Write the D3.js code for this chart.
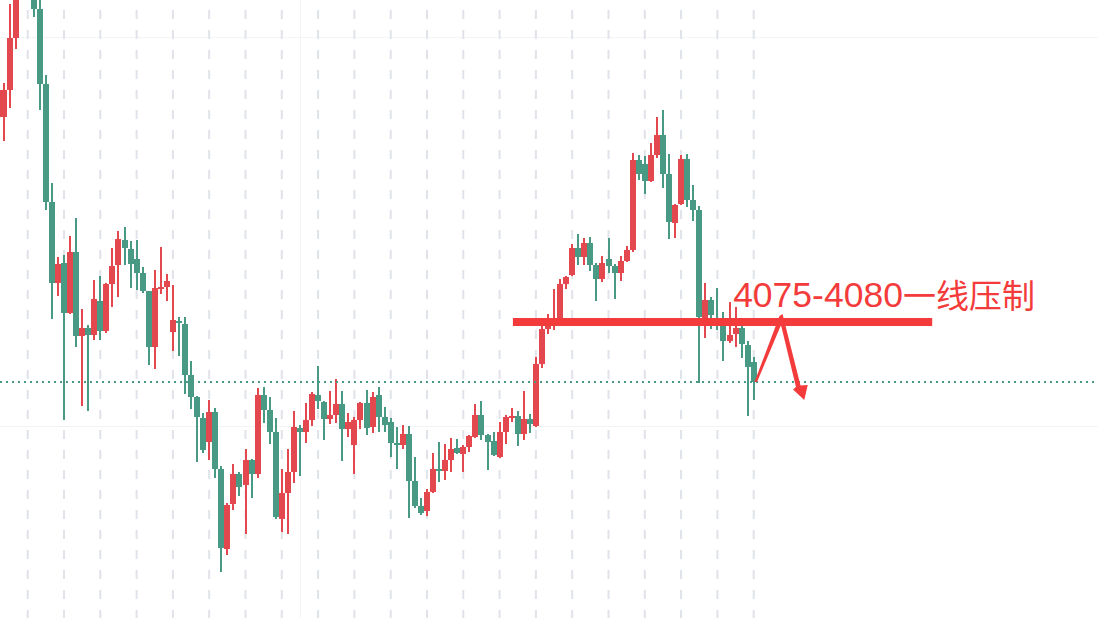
<!DOCTYPE html>
<html>
<head>
<meta charset="utf-8">
<script src="https://cdn.jsdelivr.net/npm/d3@7"></script>
<style>
html,body{margin:0;padding:0;background:#fff;overflow:hidden;}
svg{display:block;}
</style>
</head>
<body>
<svg id="chart" width="1098" height="618"></svg>
<script>
// ---- data (prices) ----
const open = [4101.23,4098.33,4101.00,4106.23,4112.00,4113.80,4111.20,4109.10,4101.60,4089.80,
4081.73,4083.70,4078.73,4084.80,4076.43,4077.20,4076.53,4079.90,4076.90,4081.60,
4083.50,4086.00,4085.10,4084.10,4082.70,4080.90,4075.33,4081.10,4081.30,4076.83,
4077.90,4077.60,4072.50,4070.33,4068.20,4065.80,4068.80,4063.10,4055.13,4059.63,
4062.60,4061.53,4064.03,4062.63,4070.53,4069.00,4066.80,4058.07,4060.73,4062.83,
4067.20,4066.83,4068.00,4070.53,4069.80,4068.10,4068.50,4069.60,4067.10,4065.53,
4068.00,4069.73,4067.30,4070.50,4068.30,4067.80,4065.70,4065.50,4066.60,4061.90,
4059.40,4058.90,4060.80,4063.10,4062.90,4064.00,4065.20,4064.60,4065.30,4066.30,
4068.50,4066.50,4065.90,4064.30,4066.80,4068.30,4068.40,4066.60,4068.10,4067.43,
4073.60,4077.10,4077.60,4078.10,4081.60,4082.50,4085.20,4084.30,4085.70,4083.50,
4082.10,4084.10,4083.40,4082.70,4083.90,4085.00,4094.00,4093.60,4091.90,4094.50,
4096.50,4092.60,4087.70,4089.60,4094.10,4090.00,4089.00,4078.20,4080.00,4078.20,
4077.50,4075.90,4076.60,4077.20,4075.50,4073.80];
const high = [4101.50,4101.67,4109.60,4113.00,4114.80,4115.20,4111.80,4110.30,4102.50,4091.70,
4084.30,4084.50,4086.40,4088.20,4079.10,4077.50,4082.00,4082.40,4081.70,4085.20,
4086.90,4087.30,4085.90,4086.00,4083.30,4080.90,4083.00,4085.30,4082.60,4081.50,
4078.30,4078.30,4073.90,4070.40,4068.70,4070.00,4069.20,4063.40,4059.73,4063.60,
4062.80,4065.13,4064.10,4071.20,4071.30,4070.30,4068.20,4063.10,4065.10,4068.90,
4067.50,4069.70,4070.83,4073.40,4069.90,4070.90,4072.10,4070.90,4068.70,4068.30,
4069.83,4071.00,4070.80,4071.30,4069.30,4068.20,4067.30,4067.50,4067.40,4064.30,
4060.20,4061.10,4064.70,4065.80,4065.60,4066.20,4066.10,4065.50,4066.50,4069.60,
4069.90,4066.60,4066.80,4067.80,4068.50,4069.20,4068.90,4070.90,4068.60,4074.30,
4077.40,4078.60,4081.10,4082.10,4082.40,4085.60,4086.60,4086.20,4086.30,4083.70,
4084.40,4086.20,4083.60,4084.40,4085.40,4094.70,4094.50,4094.40,4095.70,4098.30,
4099.00,4094.60,4089.60,4094.50,4094.60,4091.50,4089.40,4081.70,4080.30,4081.20,
4078.80,4079.80,4079.30,4077.40,4075.90,4074.30];
const low = [4098.20,4095.93,4099.17,4105.13,4110.50,4110.40,4108.33,4099.00,4089.00,4078.13,
4080.40,4068.00,4078.60,4075.33,4069.40,4068.90,4076.00,4076.00,4076.70,4079.30,
4080.30,4083.50,4081.20,4081.00,4080.70,4073.50,4073.10,4080.60,4079.90,4074.90,
4074.40,4070.60,4069.10,4063.80,4064.70,4064.00,4062.20,4052.80,4054.53,4059.03,
4060.43,4056.63,4060.23,4062.23,4067.73,4065.63,4058.13,4056.83,4056.57,4061.73,
4062.43,4065.73,4067.43,4069.13,4066.00,4067.60,4067.70,4063.93,4066.30,4062.63,
4067.10,4066.50,4066.70,4066.80,4066.80,4064.30,4063.10,4065.10,4058.20,4059.20,
4058.50,4058.40,4060.70,4061.80,4062.00,4062.80,4064.60,4062.80,4064.80,4066.20,
4066.00,4063.00,4064.40,4064.20,4065.60,4067.80,4065.40,4066.00,4066.70,4067.30,
4073.20,4076.60,4077.00,4078.00,4081.10,4082.40,4083.50,4083.50,4082.90,4079.90,
4081.80,4082.70,4080.10,4081.90,4083.80,4084.80,4092.00,4090.60,4091.80,4094.20,
4091.20,4086.10,4086.20,4089.50,4089.30,4087.90,4071.70,4076.20,4077.10,4077.00,
4073.90,4075.70,4075.30,4074.20,4068.40,4070.00];
const close = [4098.33,4101.00,4106.23,4112.00,4114.00,4111.20,4109.13,4101.63,4089.83,4081.73,
4083.60,4078.73,4084.80,4076.43,4077.20,4076.53,4080.10,4076.90,4081.60,4083.40,
4086.10,4085.20,4083.60,4082.70,4080.90,4075.33,4081.20,4081.30,4081.90,4078.00,
4077.70,4072.53,4070.33,4068.33,4065.00,4068.80,4063.10,4055.23,4059.53,4062.60,
4061.33,4064.00,4062.63,4070.53,4069.03,4066.83,4058.33,4060.67,4062.80,4067.30,
4066.83,4068.00,4070.63,4069.93,4068.10,4068.50,4069.60,4067.10,4067.80,4068.00,
4069.73,4067.23,4070.30,4068.30,4067.50,4065.70,4065.50,4066.60,4061.90,4059.40,
4058.70,4060.80,4063.10,4062.90,4064.00,4065.10,4064.70,4065.30,4066.40,4068.50,
4066.50,4065.80,4064.50,4066.80,4068.30,4068.40,4066.60,4068.10,4067.60,4073.60,
4077.10,4077.40,4078.10,4081.60,4082.30,4085.20,4084.30,4085.70,4083.50,4082.10,
4083.70,4083.40,4082.70,4083.90,4085.00,4094.00,4092.60,4091.90,4094.50,4096.50,
4092.60,4087.80,4089.50,4094.10,4090.00,4089.00,4078.30,4080.00,4078.50,4077.60,
4075.90,4076.50,4077.20,4075.60,4073.30,4071.80];

// grid (in candle index / price units)
const dashedGridIdx = [5,11,17,23,29,35,41,47,53,59,65,71,77,83,89,95,101,107,113,119,125];
const faintGridIdx = [50];
const faintGridPrice = [4106.3, 4067.4];

// annotation
const resistanceBand = [4078.2, 4077.4];
const resistanceSpan = [85.2, 154.5];
const labelNum = "4075-4080";
const labelCJK = "一线压制";
const labelAt = [121.6, 4079.3];
const arrowPts = [[125.13,4071.8],[129.26,4078.4],[129.76,4078.6],[129.93,4078.2],[132.74,4071.45],
  [133.93,4071.5],[133.36,4070.0],[131.50,4071.05],[131.99,4071.3],[129.51,4077.5],[125.55,4071.8]];

// ---- drawing ----
const W = 1098, H = 618;
const RED = "#e2484e", GREEN = "#489a85", ANNO = "#f43b3b";
const n = close.length;
const idx = d3.range(n);
const step = 6.05, start = -5.575;
const x = d3.scaleBand().domain(idx).range([start, start + n * step]).paddingInner(0).paddingOuter(0);
const cx = i => x(i) + x.bandwidth() / 2;
const xl = d3.scaleLinear().domain([0, n - 1]).range([cx(0), cx(n - 1)]);
const y = d3.scaleLinear().domain([4110, 4052]).range([0, 580]);

const svg = d3.select("#chart");
svg.append("rect").attr("width", W).attr("height", H).attr("fill", "#ffffff");

// faint solid grid
svg.append("g").selectAll("line").data(faintGridPrice).join("line")
  .attr("x1", 0).attr("x2", W).attr("y1", d => Math.round(y(d)) + 0.5).attr("y2", d => Math.round(y(d)) + 0.5)
  .attr("stroke", "#f3f4f6").attr("stroke-width", 1);
svg.append("g").selectAll("line").data(faintGridIdx).join("line")
  .attr("x1", d => Math.round(xl(d)) + 0.5).attr("x2", d => Math.round(xl(d)) + 0.5).attr("y1", 0).attr("y2", H)
  .attr("stroke", "#f3f4f6").attr("stroke-width", 1);

// dashed vertical grid
svg.append("g").selectAll("line").data(dashedGridIdx).join("line")
  .attr("x1", d => xl(d)).attr("x2", d => xl(d)).attr("y1", 10).attr("y2", H)
  .attr("stroke", "#e1e3ea").attr("stroke-width", 2).attr("stroke-dasharray", "9,11");

// candles
const g = svg.append("g").attr("shape-rendering", "crispEdges");
const col = i => close[i] >= open[i] ? RED : GREEN;
g.selectAll("rect.wick").data(idx).join("rect").attr("class", "wick")
  .attr("x", i => cx(i) - 1).attr("width", 2)
  .attr("y", i => y(high[i])).attr("height", i => Math.max(1, y(low[i]) - y(high[i])))
  .attr("fill", col);
g.selectAll("rect.body").data(idx).join("rect").attr("class", "body")
  .attr("x", i => cx(i) - 3).attr("width", 6)
  .attr("y", i => y(Math.max(open[i], close[i])))
  .attr("height", i => Math.max(1.5, Math.abs(y(open[i]) - y(close[i]))))
  .attr("fill", col);

// last price dotted line
svg.append("line").attr("x1", 0).attr("x2", W)
  .attr("y1", y(close[n - 1])).attr("y2", y(close[n - 1]))
  .attr("stroke", GREEN).attr("stroke-width", 2).attr("stroke-dasharray", "2,4");

// resistance band
svg.append("rect")
  .attr("x", xl(resistanceSpan[0])).attr("width", xl(resistanceSpan[1]) - xl(resistanceSpan[0]))
  .attr("y", y(resistanceBand[0])).attr("height", y(resistanceBand[1]) - y(resistanceBand[0]))
  .attr("fill", ANNO);

// arrow
svg.append("path")
  .attr("d", d3.line().x(d => xl(d[0])).y(d => y(d[1]))(arrowPts) + "Z")
  .attr("fill", ANNO);

// label
const t = svg.append("text").attr("x", xl(labelAt[0])).attr("y", y(labelAt[1])).attr("fill", ANNO);
t.append("tspan").attr("font-family", "'Liberation Sans', Arial, sans-serif").attr("font-size", 35.5).text(labelNum);
t.append("tspan").attr("font-family", "'Noto Sans CJK SC', sans-serif").attr("font-size", 33).attr("dy", 1).text(labelCJK);
</script>
</body>
</html>
